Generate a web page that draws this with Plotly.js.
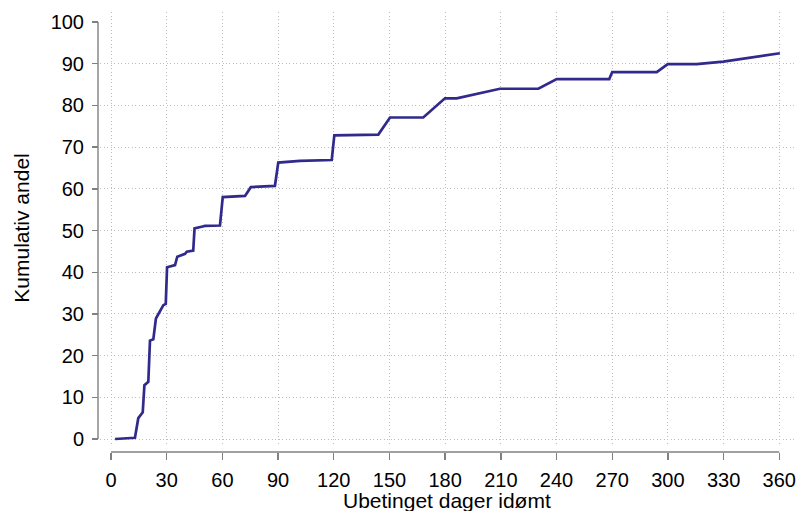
<!DOCTYPE html>
<html>
<head>
<meta charset="utf-8">
<script src="https://cdn.plot.ly/plotly-3.0.1.min.js"></script>
<style>html,body{margin:0;padding:0;background:#fff;}#chart{width:798px;height:511px;}</style>
</head>
<body>
<div id="chart"></div>
<script>
// Data (days sentenced vs cumulative share, %)
const days = [2.2, 12.9, 14.7, 16.5, 17.1, 18.0, 20.1, 21.0, 22.8, 24.2, 26.4, 28.2, 29.5, 30.2,
  34.5, 35.7, 39.9, 40.8, 44.3, 45.0, 48.8, 50.6, 58.7, 60.2, 72.2, 75.3, 88.3, 90.1, 101.8,
  118.9, 120.3, 144.0, 150.3, 168.2, 179.9, 186.2, 209.5, 230.2, 240.1, 268.4, 270.0, 294.0,
  299.9, 315.5, 329.8, 360.3];
const share = [0.0, 0.3, 5.0, 6.3, 6.4, 12.9, 13.7, 23.6, 23.9, 28.9, 30.7, 32.1, 32.4, 41.2,
  41.7, 43.7, 44.4, 44.9, 45.2, 50.5, 50.9, 51.1, 51.2, 58.0, 58.3, 60.4, 60.7, 66.3, 66.7,
  66.9, 72.8, 73.0, 77.1, 77.1, 81.7, 81.7, 84.0, 84.0, 86.3, 86.3, 88.0, 88.0,
  89.9, 89.9, 90.5, 92.5];

const xTicks = [0, 30, 60, 90, 120, 150, 180, 210, 240, 270, 300, 330, 360];
const yTicks = [0, 10, 20, 30, 40, 50, 60, 70, 80, 90, 100];
const yGrid = [0, 10, 20, 30, 40, 50, 60, 70, 80, 90];

const xTitle = 'Ubetinget dager idømt';
const yTitle = 'Kumulativ andel';

const FONT = 'Liberation Sans, Arial, sans-serif';
const axisGray = '#808080';
const gridGray = '#bdbdbd';
const lineColor = '#312a8c';

const xRange = [-5.925, 369.0];
const yRange = [-1.199, 102.40];

const trace = {
  x: days, y: share, type: 'scatter', mode: 'lines',
  line: {color: lineColor, width: 2.7, shape: 'linear'},
  hoverinfo: 'skip', showlegend: false
};

const layout = {
  width: 798, height: 511,
  margin: {l: 98, r: 2, t: 12, b: 59, pad: 0},
  paper_bgcolor: '#ffffff', plot_bgcolor: '#ffffff',
  font: {family: FONT, size: 20, color: '#000000'},
  showlegend: false,
  xaxis: {
    domain: [2 / 698, 1], range: xRange, anchor: 'free', position: 0,
    tickmode: 'array', tickvals: xTicks, ticktext: xTicks.map(String),
    ticks: 'outside', ticklen: 7, tickwidth: 1.4, tickcolor: axisGray,
    tickfont: {family: FONT, size: 20, color: '#000'},
    ticklabelstandoff: 3,
    showline: false, zeroline: false,
    showgrid: true, gridcolor: gridGray, gridwidth: 1, griddash: '1px,2.5px',
    automargin: false, fixedrange: true
  },
  yaxis: {
    domain: [8 / 440, 1], range: yRange, anchor: 'x',
    tickmode: 'array', tickvals: yGrid, showticklabels: false, ticks: '',
    showline: false, zeroline: false,
    showgrid: true, gridcolor: gridGray, gridwidth: 1, griddash: '1px,2.5px',
    automargin: false, fixedrange: true
  },
  yaxis2: {
    overlaying: 'y', anchor: 'free', position: 0, side: 'left', range: yRange,
    tickmode: 'array', tickvals: yTicks, ticktext: yTicks.map(String),
    ticks: 'outside', ticklen: 6, tickwidth: 1.4, tickcolor: axisGray,
    tickfont: {family: FONT, size: 20, color: '#000'},
    ticklabelstandoff: 4,
    showline: false, zeroline: false, showgrid: false,
    title: {text: yTitle, font: {family: FONT, size: 21, color: '#000'}, standoff: 14},
    automargin: false, fixedrange: true
  },
  annotations: [
    {text: xTitle, xref: 'paper', yref: 'paper', x: 0.5, y: 0, xanchor: 'center', yanchor: 'middle',
     yshift: -48, showarrow: false, font: {family: FONT, size: 21, color: '#000'}}
  ],
  shapes: [
    {type: 'line', xref: 'x', yref: 'paper', x0: xTicks[0], x1: xTicks[xTicks.length - 1], y0: 0, y1: 0,
     line: {color: axisGray, width: 1.4}},
    {type: 'line', xref: 'paper', yref: 'y2', x0: 0, x1: 0, y0: yTicks[0], y1: yTicks[yTicks.length - 1],
     line: {color: axisGray, width: 1.4}}
  ]
};

Plotly.newPlot('chart', [trace], layout, {displayModeBar: false, staticPlot: true});
</script>
</body>
</html>
